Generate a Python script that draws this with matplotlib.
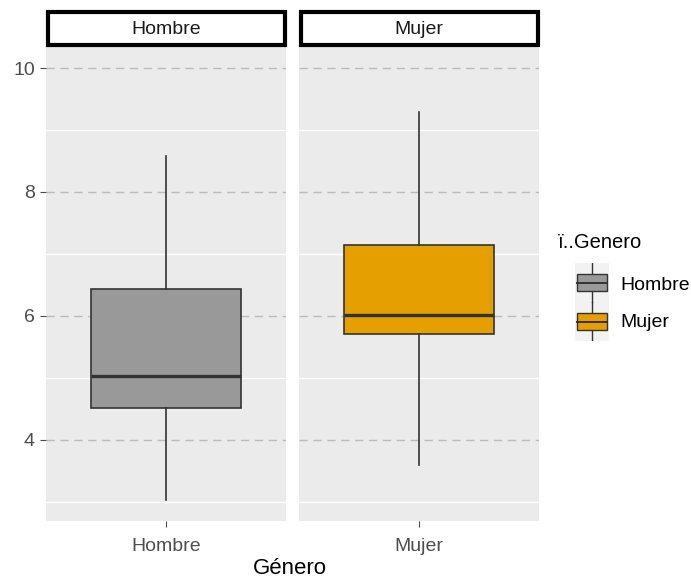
import matplotlib
matplotlib.use("Agg")
import matplotlib.pyplot as plt
from matplotlib.patches import Rectangle
import numpy as np

plt.rcParams['font.family'] = ['Liberation Sans', 'DejaVu Sans']

# -------------------- Data --------------------
generos = ["Hombre", "Mujer"]
colores = ["#999999", "#E69F00"]
whisker_lo = [3.03, 3.60]
q1 = [4.52, 5.71]
medianas = [5.03, 6.02]
q3 = [6.44, 7.15]
whisker_hi = [8.58, 9.29]

y_ticks = [4, 6, 8, 10]
y_minor = [3, 5, 7, 9]
y_lim = (2.69, 10.34)

# -------------------- Layout (pixels) --------------------
W, H = 691, 579
fig = plt.figure(figsize=(W / 100, H / 100), dpi=100)

def fx(px):
    return px / W

def fy(py):
    return 1 - py / H

panel_left = [46, 299]
panel_w = 240
panel_top, panel_bot = 47, 521

dark = "#333333"
for i, g in enumerate(generos):
    ax = fig.add_axes([fx(panel_left[i]), fy(panel_bot), panel_w / W, (panel_bot - panel_top) / H])
    ax.set_facecolor("#EBEBEB")
    ax.set_xlim(0.4, 1.6)
    ax.set_ylim(*y_lim)
    for s in ax.spines.values():
        s.set_visible(False)

    for y in y_minor:
        ax.axhline(y, color="white", lw=1.0, zorder=1)
    for y in y_ticks:
        ax.axhline(y, color="#BBBBBB", lw=1.0, ls=(0, (6, 4)), zorder=1)

    # boxplot drawn from the summary stats
    stats = [dict(med=medianas[i], q1=q1[i], q3=q3[i],
                  whislo=whisker_lo[i], whishi=whisker_hi[i], fliers=[])]
    ax.bxp(stats, positions=[1], widths=0.75, showcaps=False, patch_artist=True,
           boxprops=dict(facecolor=colores[i], edgecolor=dark, lw=1.2),
           medianprops=dict(color=dark, lw=2.4),
           whiskerprops=dict(color=dark, lw=1.2), zorder=3)

    ax.set_xticks([1])
    ax.set_xticklabels([g])
    ax.set_yticks(y_ticks)
    ax.tick_params(axis="x", length=4, color="#4D4D4D", labelcolor="#4D4D4D",
                   labelsize=14, pad=8)
    if i == 0:
        ax.tick_params(axis="y", length=4, color="#4D4D4D", labelcolor="#4D4D4D",
                       labelsize=14, pad=4)
    else:
        ax.tick_params(axis="y", length=0, labelleft=False)

    # facet strip
    strip = Rectangle((fx(panel_left[i] + 1.5), fy(45)), (panel_w - 3) / W, 33 / H,
                      transform=fig.transFigure, facecolor="white",
                      edgecolor="black", lw=3)
    fig.add_artist(strip)
    fig.text(fx(panel_left[i] + panel_w / 2), fy(29), g, ha="center", va="center",
             fontsize=14, color="#1A1A1A")

fig.text(fx(290), fy(568), "Género", ha="center", va="center", fontsize=16)

# -------------------- Legend --------------------
fig.text(fx(558), fy(243), "ï..Genero", ha="left", va="center", fontsize=14.5)
lax = fig.add_axes([fx(575), fy(341), 34 / W, 78 / H])
lax.set_xlim(0, 1)
lax.set_ylim(0, 2)
lax.axis("off")
for k, c in enumerate(colores):
    yc = 1.5 - k
    lax.add_patch(Rectangle((0.0, yc - 0.49), 1.0, 0.98, facecolor="#F2F2F2", edgecolor="none"))
    lax.plot([0.5, 0.5], [yc - 0.49, yc + 0.49], color=dark, lw=1.0)
    lax.add_patch(Rectangle((0.06, yc - 0.22), 0.88, 0.44, facecolor=c, edgecolor=dark, lw=1.0, zorder=3))
    lax.plot([0.06, 0.94], [yc, yc], color=dark, lw=1.4, zorder=4)
    fig.text(fx(620), fy(285 + 37 * k), generos[k], ha="left", va="center", fontsize=14)

fig.savefig("out.png", dpi=100)
